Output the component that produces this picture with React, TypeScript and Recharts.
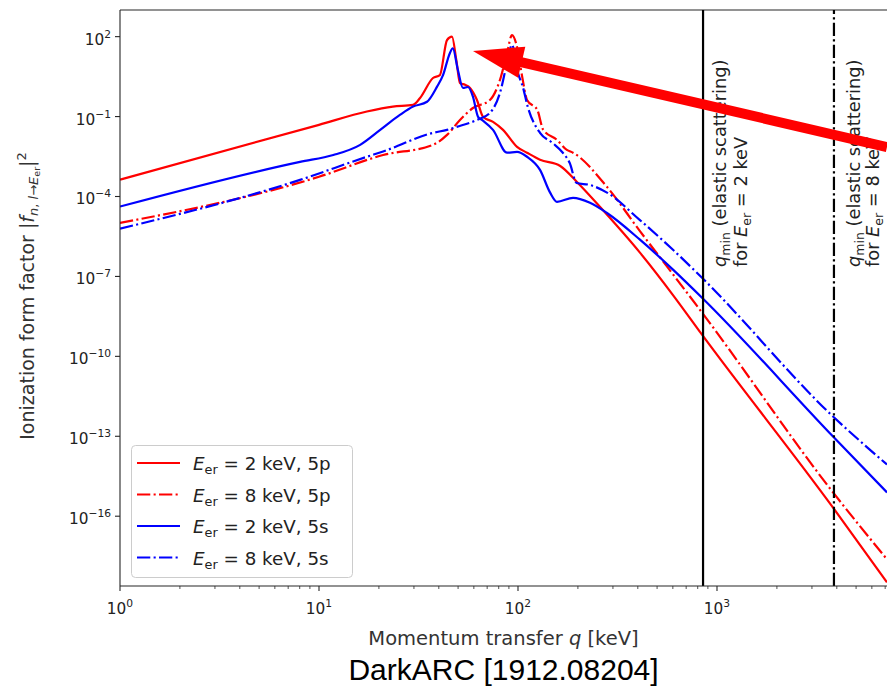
import { LineChart, Line, XAxis, YAxis, ReferenceLine, Legend, Label } from "recharts";

// momentum transfer q [keV] and |f|^2 for each curve
const qRed2 = [1, 10, 17.4, 23.5, 29.7, 32.2, 37.4, 40.5, 44, 46.6, 49, 51.1, 54.2, 57.4, 62.2, 66.7, 74.9, 84.1, 98.9, 111, 129, 163, 200, 258, 410, 601, 841, 3830, 7150];
const fRed2 = [4.3e-4, 0.049, 0.155, 0.237, 0.275, 0.5, 2.8, 3.6, 75, 100, 13, 1.8, 1.55, 1.19, 0.42, 0.098, 0.063, 0.0316, 0.0073, 0.0044, 0.0024, 0.0014, 3.2e-4, 4.1e-5, 7.8e-7, 2.0e-8, 6.5e-10, 2.1e-16, 3.3e-19];

const qRed8 = [1, 10, 21, 37.4, 44, 51.1, 59.4, 72.3, 81.2, 88.1, 93.3, 98.9, 105, 111, 125, 134, 157, 176, 189, 280, 410, 601, 841, 3830, 7150];
const fRed8 = [1.02e-5, 5.5e-4, 3.6e-3, 8.7e-3, 0.0205, 0.075, 0.21, 0.42, 2.4, 24.5, 115, 41, 3.1, 0.42, 0.178, 0.0316, 0.0133, 5.6e-3, 4.4e-3, 2.3e-4, 5e-6, 1.2e-7, 4.4e-9, 7.8e-16, 2.4e-18];

const qBlue2 = [1, 8.03, 11.8, 16.1, 20.3, 25.5, 29.7, 34.9, 39.2, 42, 45.5, 47, 49.9, 52.9, 56.1, 59.4, 63, 65.9, 74.9, 88.1, 98.9, 111, 129, 145, 157, 189, 230, 280, 410, 601, 851, 3830, 7150];
const fBlue2 = [4.2e-5, 2.0e-3, 3.6e-3, 8.7e-3, 0.0316, 0.115, 0.237, 0.36, 1.33, 3.6, 24.5, 36.6, 5.6, 1.19, 1.29, 0.55, 0.098, 0.075, 0.0316, 0.0044, 0.0047, 0.0031, 1e-3, 1.4e-4, 6.3e-5, 8.9e-5, 5.8e-5, 2.4e-5, 2.4e-6, 1.8e-7, 1.45e-8, 9.8e-14, 7.8e-16];

const qBlue8 = [1, 8.03, 17.4, 21, 37.4, 44, 49.2, 62.2, 72.3, 81.2, 88.1, 93.3, 99.9, 105.8, 112, 129, 149, 168, 182, 197, 230, 280, 410, 601, 841, 3830, 7150];
const fBlue8 = [6.2e-6, 4.2e-4, 3.1e-3, 4.9e-3, 0.0245, 0.0316, 0.041, 0.075, 0.138, 0.78, 10.3, 49, 4.4, 1.29, 0.23, 0.0245, 0.0103, 4.4e-3, 1.8e-3, 3.2e-4, 2.7e-4, 1.4e-4, 1.3e-5, 1e-6, 8.9e-8, 5.5e-13, 8.7e-15];

const xTicks = [
  1, 2, 3, 4, 5, 6, 7, 8, 9,
  10, 20, 30, 40, 50, 60, 70, 80, 90,
  100, 200, 300, 400, 500, 600, 700, 800, 900,
  1000, 2000, 3000, 4000, 5000, 6000, 7000,
];
const yTicks = [1e2, 1e-1, 1e-4, 1e-7, 1e-10, 1e-13, 1e-16];

// q_min for elastic scattering
const qMin2 = 851;
const qMin8 = 3870;

const toRows = (q: number[], f: number[]) => q.map((v, i) => ({ q: v, f: f[i] }));

const RED = "#ff0000";
const BLUE = "#0000ff";
const DASHDOT = "13.3 3.3 2.1 3.3";
const FONT = "DejaVu Sans";
const AXIS = "#262626";

const series = [
  { key: "r2", energy: "2", shell: "5p", color: RED, dash: undefined, data: toRows(qRed2, fRed2) },
  { key: "r8", energy: "8", shell: "5p", color: RED, dash: DASHDOT, data: toRows(qRed8, fRed8) },
  { key: "b2", energy: "2", shell: "5s", color: BLUE, dash: undefined, data: toRows(qBlue2, fBlue2) },
  { key: "b8", energy: "8", shell: "5s", color: BLUE, dash: DASHDOT, data: toRows(qBlue8, fBlue8) },
];

const pow10 = (v: number) => Math.round(Math.log10(v));
const isDecade = (v: number) => Math.abs(Math.log10(v) - pow10(v)) < 1e-9;
const expText = (v: number) => String(pow10(v)).replace("-", "\u2212");

const XTick = (props: any) => {
  const { x, y, payload } = props;
  const v = payload.value;
  const major = isDecade(v);
  return (
    <g>
      <line x1={x} x2={x} y1={y} y2={y + (major ? 5 : 3)} stroke={AXIS} strokeWidth={major ? 1.1 : 0.8} />
      {major && (
        <text x={x} y={y + 28} textAnchor="middle" fontFamily={FONT} fontSize={15.3} fill="#222">
          10<tspan dy={-7} fontSize={10.7}>{expText(v)}</tspan>
        </text>
      )}
    </g>
  );
};

const YTick = (props: any) => {
  const { x, y, payload } = props;
  const v = payload.value;
  return (
    <g>
      <line x1={x} x2={x - 5} y1={y} y2={y} stroke={AXIS} strokeWidth={1.1} />
      <text x={x - 9} y={y + 8} textAnchor="end" fontFamily={FONT} fontSize={15.3} fill="#222">
        10<tspan dy={-7} fontSize={10.7}>{expText(v)}</tspan>
      </text>
    </g>
  );
};

const XLabel = (props: any) => {
  const { x, y, width } = props.viewBox;
  const cx = x + width / 2;
  return (
    <g>
      <text x={cx} y={y + 59} textAnchor="middle" fontFamily={FONT} fontSize={19.5} fill="#333">
        Momentum transfer <tspan fontStyle="italic">q</tspan> [keV]
      </text>
      <text x={cx} y={y + 94} textAnchor="middle" fontFamily="Liberation Sans" fontSize={30} fill="#000">
        DarkARC [1912.08204]
      </text>
    </g>
  );
};

const YLabel = (props: any) => {
  const { y, height } = props.viewBox;
  const cx = 34;
  const cy = y + height / 2 - 2;
  return (
    <text transform={`translate(${cx},${cy}) rotate(-90)`} textAnchor="middle" fontFamily={FONT} fontSize={19} fill="#333">
      Ionization form factor |<tspan fontStyle="italic">f</tspan>
      <tspan fontSize={13} dy={4}><tspan fontStyle="italic">n</tspan>, <tspan fontStyle="italic">l</tspan>{"\u2192"}<tspan fontStyle="italic">E</tspan></tspan>
      <tspan fontSize={9.5} dy={2}>er</tspan>
      <tspan dy={-6}>|</tspan>
      <tspan fontSize={13} dy={-8}>2</tspan>
    </text>
  );
};

// the texts start at the same height under the top spine for both lines
const LABEL_BOTTOM = 267;

const QminLabel = (props: any) => {
  const { viewBox, energy, d1, d2 } = props;
  const x = viewBox.x;
  return (
    <g fontFamily={FONT} fontSize={17.8} fill="#222">
      <text transform={`translate(${x + d1},${LABEL_BOTTOM}) rotate(-90)`}>
        <tspan fontStyle="italic">q</tspan>
        <tspan fontSize={12.5} dy={4}>min</tspan>
        <tspan dy={-4}> (elastic scattering)</tspan>
      </text>
      <text transform={`translate(${x + d2},${LABEL_BOTTOM}) rotate(-90)`}>
        for <tspan fontStyle="italic">E</tspan>
        <tspan fontSize={12.5} dy={4}>er</tspan>
        <tspan dy={-4}> = {energy} keV</tspan>
      </text>
    </g>
  );
};

const Arrow = (props: any) => {
  const { x1, y1, x2, y2 } = props;
  const dx = x2 - x1;
  const dy = y2 - y1;
  const len = Math.hypot(dx, dy);
  const ux = dx / len;
  const uy = dy / len;
  const headLen = 50;
  const half = 16;
  const bx = x2 - ux * headLen;
  const by = y2 - uy * headLen;
  return (
    <g>
      <line x1={x1} y1={y1} x2={bx + ux * 3} y2={by + uy * 3} stroke={RED} strokeWidth={10} />
      <polygon
        points={`${x2},${y2} ${bx - uy * half},${by + ux * half} ${bx + uy * half},${by - ux * half}`}
        fill={RED}
      />
    </g>
  );
};

const LegendBox = () => (
  <svg width={222} height={133} style={{ display: "block" }}>
    <rect x={0.5} y={0.5} width={221} height={132} rx={4} fill="#fff" fillOpacity={0.8} stroke="#cccccc" />
    {series.map((s, i) => {
      const cy = 18 + i * 31.5;
      return (
        <g key={s.key}>
          <line x1={6} x2={49} y1={cy} y2={cy} stroke={s.color} strokeWidth={2.2} strokeDasharray={s.dash} />
          <text x={62} y={cy + 7} fontFamily={FONT} fontSize={18.3} fill="#222">
            <tspan fontStyle="italic">E</tspan>
            <tspan fontSize={12.8} dy={4}>er</tspan>
            <tspan dy={-4}> = {s.energy} keV, {s.shell}</tspan>
          </text>
        </g>
      );
    })}
  </svg>
);

export default function App() {
  return (
    <div style={{ position: "absolute", left: 0, top: 0, width: 887, height: 687, background: "#fff" }}>
      <LineChart width={887} height={687} margin={{ top: 10, right: 0, bottom: 41, left: 0 }}>
        <XAxis
          dataKey="q"
          type="number"
          scale="log"
          domain={[1, 7150]}
          allowDataOverflow
          ticks={xTicks}
          interval={0}
          tick={<XTick />}
          tickLine={false}
          tickSize={0}
          tickMargin={0}
          height={60}
          axisLine={{ stroke: AXIS, strokeWidth: 1.1 }}
        >
          <Label content={XLabel} />
        </XAxis>
        <YAxis
          type="number"
          scale="log"
          domain={[2.4e-19, 1000]}
          allowDataOverflow
          ticks={yTicks}
          interval={0}
          tick={<YTick />}
          tickLine={false}
          tickSize={0}
          tickMargin={0}
          width={120}
          axisLine={{ stroke: AXIS, strokeWidth: 1.1 }}
        >
          <Label content={YLabel} />
        </YAxis>
        <ReferenceLine y={1000} stroke={AXIS} strokeWidth={1.1} />
        {series.map((s) => (
          <Line
            key={s.key}
            data={s.data}
            dataKey="f"
            type="monotone"
            stroke={s.color}
            strokeWidth={2.2}
            strokeDasharray={s.dash}
            dot={false}
            activeDot={false}
            isAnimationActive={false}
          />
        ))}
        <ReferenceLine
          x={qMin2}
          stroke="#000"
          strokeWidth={2.2}
          label={(p: any) => <QminLabel viewBox={p.viewBox} energy="2" d1={22.5} d2={44} />}
        />
        <ReferenceLine
          x={qMin8}
          stroke="#000"
          strokeWidth={2.2}
          strokeDasharray={DASHDOT}
          label={(p: any) => <QminLabel viewBox={p.viewBox} energy="8" d1={26} d2={45.5} />}
        />
        <ReferenceLine
          segment={[
            { x: 7150, y: 0.0072 },
            { x: 59.4, y: 29 },
          ]}
          shape={Arrow}
        />
        <Legend
          layout="vertical"
          align="center"
          verticalAlign="middle"
          content={() => <LegendBox />}
          wrapperStyle={{ left: 131, top: 445, width: 222, height: 133 }}
        />
      </LineChart>
    </div>
  );
}
